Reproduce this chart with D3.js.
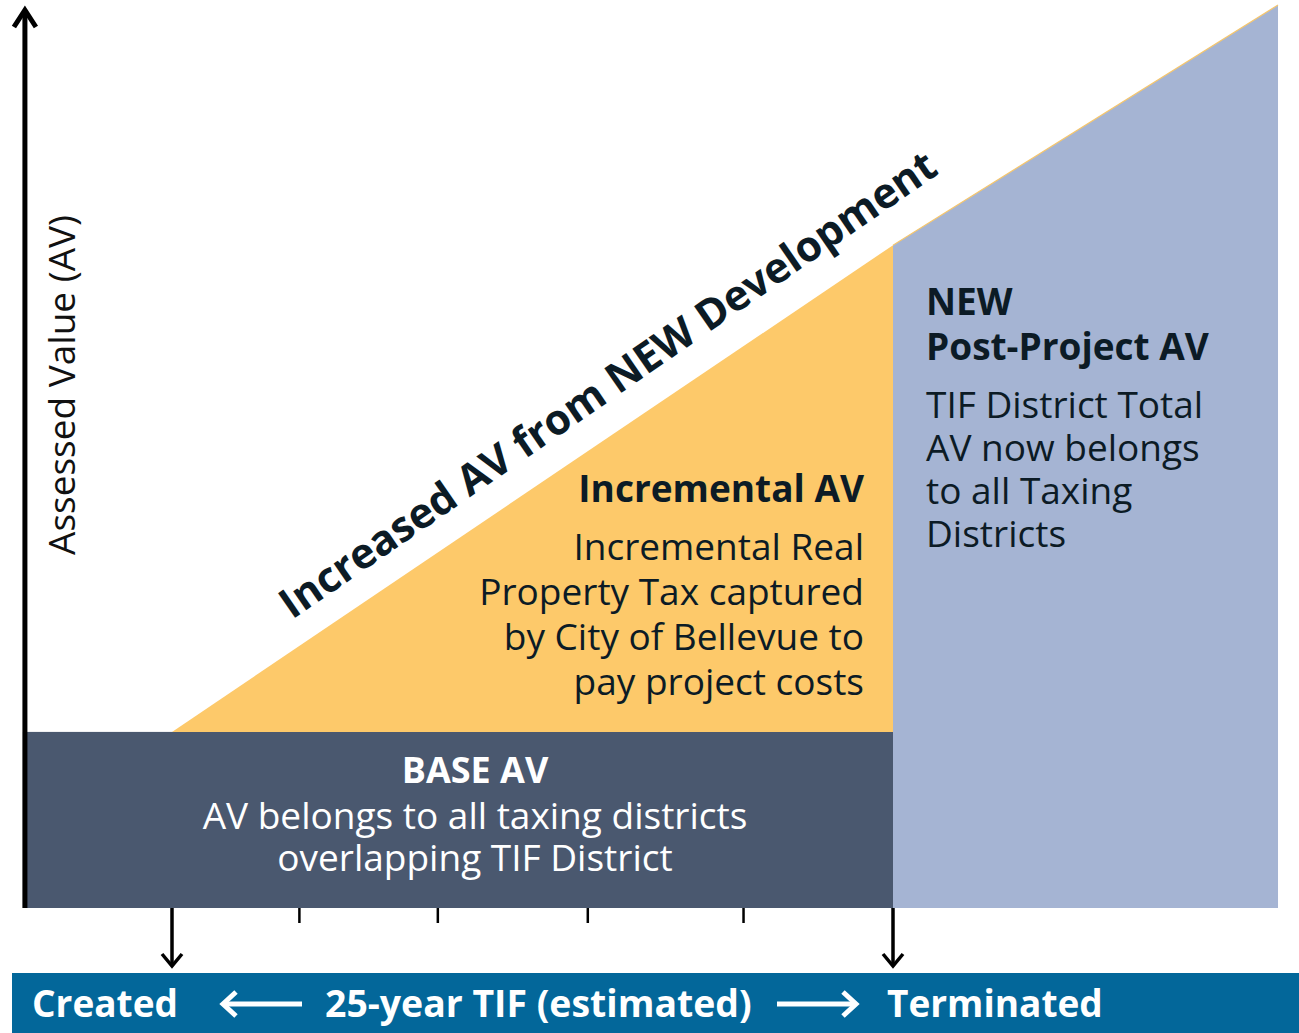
<!DOCTYPE html>
<html>
<head>
<meta charset="utf-8">
<script src="https://cdn.jsdelivr.net/npm/d3@7"></script>
<style>
  body { margin: 0; background: #fff; }
  svg { display: block; font-family: "Open Sans", sans-serif; }
</style>
</head>
<body>
<div id="chart"></div>
<script>
// timeline in years: district created at 0, terminated at 25
var yearStart = -5.1, yearCreated = 0, yearTerminated = 25, yearEnd = 38.35;
var tickYears = [4.4, 9.2, 14.4, 19.8];

// assessed value, relative units
var baseAV = 19.5;
var avGrowth = [
  { year: yearCreated, av: baseAV },
  { year: yearTerminated, av: 73.4 },
  { year: yearEnd, av: 100 }
];

var incrementalLines = ["Incremental Real", "Property Tax captured", "by City of Bellevue to", "pay project costs"];
var postLines = ["TIF District Total", "AV now belongs", "to all Taxing", "Districts"];
var baseLines = ["AV belongs to all taxing districts", "overlapping TIF District"];

window.onload = function() {

  var W = 1299, H = 1033;
  var ink = "#0c1b25";

  var svg = d3.select("#chart")
    .append("svg")
    .attr("width", W)
    .attr("height", H);

  var x = d3.scaleLinear().domain([yearCreated, yearTerminated]).range([172, 893]);
  var y = d3.scaleLinear().domain([0, 100]).range([908, 5]);

  // base AV block
  svg.append("rect")
    .attr("x", x(yearStart) - 2)
    .attr("y", y(baseAV))
    .attr("width", x(yearTerminated) - x(yearStart) + 2)
    .attr("height", y(0) - y(baseAV))
    .attr("fill", "#4a586f");

  // incremental triangle
  var area = d3.area()
    .x(function(d) { return x(d.year); })
    .y0(function(d) { return y(d.lo); })
    .y1(function(d) { return y(d.hi); });

  svg.append("path")
    .attr("d", area([
      { year: avGrowth[0].year, lo: baseAV, hi: avGrowth[0].av },
      { year: avGrowth[1].year, lo: baseAV, hi: avGrowth[1].av }
    ]))
    .attr("fill", "#fdc96a");

  // post project area
  svg.append("path")
    .attr("d", area([
      { year: avGrowth[1].year, lo: 0, hi: avGrowth[1].av },
      { year: avGrowth[2].year, lo: 0, hi: avGrowth[2].av }
    ]))
    .attr("fill", "#a5b4d3");

  svg.append("path")
    .attr("d", d3.line().x(function(d) { return x(d.year); }).y(function(d) { return y(d.av); })(avGrowth.slice(1)))
    .attr("fill", "none")
    .attr("stroke", "#f5c66e")
    .attr("stroke-width", 1.2);

  // y axis arrow
  var ax = x(yearStart);
  svg.append("line")
    .attr("x1", ax).attr("x2", ax)
    .attr("y1", y(0)).attr("y2", 10)
    .attr("stroke", "#000").attr("stroke-width", 5);
  svg.append("path")
    .attr("d", "M" + (ax - 11) + ",27 L" + ax + ",10 L" + (ax + 11) + ",27")
    .attr("fill", "none").attr("stroke", "#000").attr("stroke-width", 5);

  svg.append("text")
    .attr("transform", "translate(75,385) rotate(-90)")
    .attr("text-anchor", "middle")
    .attr("font-size", 37)
    .attr("fill", "#111")
    .text("Assessed Value (AV)");

  // ticks along the timeline
  var axis = d3.axisBottom(x).tickValues(tickYears).tickSize(15).tickFormat("");
  var g = svg.append("g").attr("transform", "translate(0," + y(0) + ")").call(axis);
  g.select(".domain").remove();
  g.selectAll(".tick line").attr("stroke", "#000").attr("stroke-width", 2.5);

  // created / terminated arrows
  [yearCreated, yearTerminated].forEach(function(yr) {
    var px = x(yr);
    svg.append("line")
      .attr("x1", px).attr("x2", px)
      .attr("y1", y(0)).attr("y2", 966)
      .attr("stroke", "#000").attr("stroke-width", 3.5);
    svg.append("path")
      .attr("d", "M" + (px - 10) + ",954 L" + px + ",966 L" + (px + 10) + ",954")
      .attr("fill", "none").attr("stroke", "#000").attr("stroke-width", 3.5);
  });

  // diagonal label
  svg.append("text")
    .attr("transform", "translate(292,620) rotate(-34.6)")
    .attr("font-size", 42)
    .attr("font-weight", 700)
    .attr("fill", ink)
    .text("Increased AV from NEW Development");

  // incremental AV text
  svg.append("text")
    .attr("x", 864).attr("y", 502)
    .attr("text-anchor", "end")
    .attr("font-size", 37).attr("font-weight", 700)
    .attr("fill", ink)
    .text("Incremental AV");
  svg.selectAll(".inc")
    .data(incrementalLines)
    .enter()
    .append("text")
    .attr("x", 864)
    .attr("y", function(d, i) { return 560 + i * 45; })
    .attr("text-anchor", "end")
    .attr("font-size", 37)
    .attr("fill", ink)
    .text(function(d) { return d; });

  // post project text
  svg.selectAll(".newh")
    .data(["NEW", "Post-Project AV"])
    .enter()
    .append("text")
    .attr("x", 926)
    .attr("y", function(d, i) { return 315 + i * 45; })
    .attr("font-size", 37).attr("font-weight", 700)
    .attr("fill", ink)
    .text(function(d) { return d; });
  svg.selectAll(".post")
    .data(postLines)
    .enter()
    .append("text")
    .attr("x", 926)
    .attr("y", function(d, i) { return 418 + i * 43; })
    .attr("font-size", 37)
    .attr("fill", ink)
    .text(function(d) { return d; });

  // base text
  svg.append("text")
    .attr("x", 475).attr("y", 783)
    .attr("text-anchor", "middle")
    .attr("font-size", 36).attr("font-weight", 700)
    .attr("fill", "#fff")
    .text("BASE AV");
  svg.selectAll(".base")
    .data(baseLines)
    .enter()
    .append("text")
    .attr("x", 475)
    .attr("y", function(d, i) { return 829 + i * 42; })
    .attr("text-anchor", "middle")
    .attr("font-size", 37)
    .attr("fill", "#fff")
    .text(function(d) { return d; });

  // bottom banner
  svg.append("rect")
    .attr("x", 12).attr("y", 973)
    .attr("width", W - 12).attr("height", H - 973)
    .attr("fill", "#03679a");

  var by = 1017;
  svg.append("text").attr("x", 32).attr("y", by)
    .attr("font-size", 37).attr("font-weight", 700).attr("fill", "#fff")
    .text("Created");
  svg.append("text").attr("x", 325).attr("y", by)
    .attr("font-size", 37.4).attr("font-weight", 700).attr("fill", "#fff")
    .text("25-year TIF (estimated)");
  svg.append("text").attr("x", 887).attr("y", by)
    .attr("font-size", 37).attr("font-weight", 700).attr("fill", "#fff")
    .text("Terminated");

  var ay = 1004;
  svg.append("line").attr("x1", 224).attr("x2", 302).attr("y1", ay).attr("y2", ay)
    .attr("stroke", "#fff").attr("stroke-width", 5);
  svg.append("path").attr("d", "M236," + (ay - 12) + " L223," + ay + " L236," + (ay + 12))
    .attr("fill", "none").attr("stroke", "#fff").attr("stroke-width", 5);
  svg.append("line").attr("x1", 777).attr("x2", 855).attr("y1", ay).attr("y2", ay)
    .attr("stroke", "#fff").attr("stroke-width", 5);
  svg.append("path").attr("d", "M843," + (ay - 12) + " L856," + ay + " L843," + (ay + 12))
    .attr("fill", "none").attr("stroke", "#fff").attr("stroke-width", 5);
}
</script>
</body>
</html>
